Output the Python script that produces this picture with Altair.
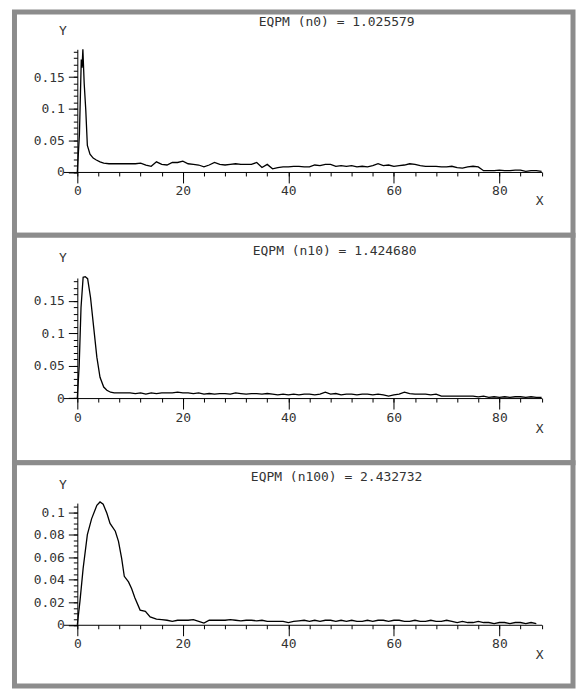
import altair as alt
import pandas as pd

# ---------------- data ----------------
titles = ["EQPM (n0) = 1.025579", "EQPM (n10) = 1.424680", "EQPM (n100) = 2.432732"]

x_n0 = [0, 0.4, 0.75, 0.9, 1.05, 1.3, 1.6, 1.9, 2.4, 3.0, 3.6, 4.3, 5.0, 6.0] + list(range(7, 89))
y_n0 = [0.0, 0.06, 0.178, 0.165, 0.194, 0.14, 0.098, 0.042, 0.028, 0.022, 0.019, 0.016, 0.014, 0.013,
        0.013, 0.013, 0.013, 0.013, 0.013, 0.014, 0.011, 0.009, 0.016, 0.012,
        0.011, 0.015, 0.015, 0.017, 0.013, 0.012, 0.011, 0.008, 0.011, 0.015,
        0.012, 0.011, 0.012, 0.013, 0.012, 0.012, 0.012, 0.015, 0.007, 0.012,
        0.005, 0.007, 0.008, 0.008, 0.009, 0.009, 0.008, 0.008, 0.011, 0.010,
        0.012, 0.012, 0.009, 0.010, 0.009, 0.010, 0.008, 0.009, 0.008, 0.010,
        0.013, 0.010, 0.011, 0.009, 0.010, 0.011, 0.013, 0.012, 0.010, 0.009,
        0.009, 0.009, 0.008, 0.008, 0.009, 0.007, 0.006, 0.008, 0.009, 0.008,
        0.002, 0.002, 0.002, 0.003, 0.002, 0.002, 0.003, 0.003, 0.001, 0.002,
        0.002, 0.001]

x_n10 = [0, 0.35, 0.7, 1.1, 1.5, 1.95, 2.5, 3.1, 3.7, 4.3, 5.0, 5.6, 6.3] + list(range(7, 89))
y_n10 = [0.0, 0.05, 0.14, 0.186, 0.187, 0.184, 0.155, 0.109, 0.063, 0.032, 0.017, 0.012, 0.009,
         0.008, 0.008, 0.008, 0.008, 0.007, 0.008, 0.006, 0.008, 0.007, 0.008,
         0.008, 0.008, 0.009, 0.008, 0.008, 0.007, 0.008, 0.006, 0.007, 0.006,
         0.007, 0.007, 0.006, 0.008, 0.007, 0.006, 0.007, 0.007, 0.006, 0.007,
         0.006, 0.005, 0.006, 0.005, 0.006, 0.005, 0.006, 0.006, 0.005, 0.006,
         0.009, 0.006, 0.007, 0.005, 0.006, 0.006, 0.005, 0.006, 0.006, 0.005,
         0.006, 0.005, 0.003, 0.005, 0.006, 0.009, 0.007, 0.006, 0.006, 0.006,
         0.005, 0.006, 0.003, 0.003, 0.003, 0.003, 0.003, 0.003, 0.003, 0.002,
         0.003, 0.001, 0.002, 0.001, 0.002, 0.001, 0.002, 0.002, 0.001, 0.002,
         0.001, 0.001]

x_n100 = [0, 0.5, 1.1, 1.9, 2.7, 3.7, 4.3, 4.9, 5.6, 6.2, 7.2, 7.8, 8.4, 8.9, 9.7, 10.3, 10.9,
          11.9, 12.9, 13.8, 15, 16, 17] + list(range(18, 88))
y_n100 = [0.0, 0.021, 0.05, 0.08, 0.094, 0.106, 0.109, 0.107, 0.099, 0.09, 0.083, 0.074, 0.059,
          0.043, 0.038, 0.032, 0.024, 0.013, 0.012, 0.007, 0.005, 0.0045, 0.004,
          0.003, 0.004, 0.004, 0.004, 0.0045, 0.003, 0.0015, 0.004, 0.004, 0.004,
          0.004, 0.0045, 0.004, 0.0035, 0.004, 0.004, 0.0035, 0.004, 0.003, 0.003,
          0.003, 0.003, 0.002, 0.003, 0.0035, 0.004, 0.003, 0.004, 0.003, 0.004,
          0.004, 0.003, 0.004, 0.003, 0.004, 0.003, 0.003, 0.004, 0.003, 0.004,
          0.004, 0.003, 0.004, 0.004, 0.003, 0.003, 0.004, 0.003, 0.003, 0.004,
          0.003, 0.003, 0.004, 0.003, 0.002, 0.003, 0.002, 0.002, 0.003, 0.002,
          0.002, 0.001, 0.002, 0.002, 0.001, 0.002, 0.002, 0.001, 0.002, 0.001]

x_major = [0, 20, 40, 60, 80]
x_minor = list(range(0, 89, 4))
y_major_a = [0, 0.05, 0.1, 0.15]
y_minor_a = [round(i * 0.01, 3) for i in range(0, 20)]
y_minor_b = [round(i * 0.01, 3) for i in range(0, 19)]
y_major_c = [0, 0.02, 0.04, 0.06, 0.08, 0.1]
y_minor_c = [round(i * 0.005, 4) for i in range(0, 22)]

# ---------------- layout ----------------
W = 560
X_DOMAIN = [-2.65, 88]
X_RANGE = [49, 528.5]
X0_PX = 63
FONT = "DejaVu Sans Mono"
TXT = "#333333"


def panel(xs, ys, title, ydom, yrange, h, ymaj, ymin, title_xy, ytitle_y, xtitle_y):
    df = pd.DataFrame({"x": xs, "y": ys})
    xsc = alt.Scale(domain=X_DOMAIN, range=X_RANGE, nice=False, zero=False)
    ysc = alt.Scale(domain=ydom, range=yrange, nice=False, zero=False)
    xoff = -(h - yrange[0])
    major = alt.Chart(df).mark_line(color="black", strokeWidth=1.3).encode(
        x=alt.X("x:Q", scale=xsc, axis=alt.Axis(
            values=x_major, orient="bottom", offset=xoff, tickSize=11, labelPadding=2,
            format="d", title="X", titleAngle=0, titleX=526, titleY=xtitle_y,
            titleAlign="center", titleBaseline="middle")),
        y=alt.Y("y:Q", scale=ysc, axis=alt.Axis(
            values=ymaj, orient="left", offset=-X0_PX, tickSize=9, labelPadding=4,
            format="~g", title="Y", titleAngle=0, titleX=-15, titleY=ytitle_y,
            titleAlign="center", titleBaseline="middle")),
    )
    minor = alt.Chart(df).mark_line(opacity=0).encode(
        x=alt.X("x:Q", scale=xsc, axis=alt.Axis(
            values=x_minor, orient="bottom", offset=xoff, tickSize=4, labels=False,
            domain=False, title=None)),
        y=alt.Y("y:Q", scale=ysc, axis=alt.Axis(
            values=ymin, orient="left", offset=-X0_PX, tickSize=4, labels=False,
            domain=False, title=None)),
    )
    ttl = alt.Chart(pd.DataFrame({"t": [title]})).mark_text(
        font=FONT, fontSize=13, color=TXT, align="center", baseline="middle"
    ).encode(text="t:N", x=alt.value(title_xy[0]), y=alt.value(title_xy[1]))
    return alt.layer(major, minor, ttl).resolve_axis(x="independent", y="independent").properties(
        width=W, height=h)


p1 = panel(x_n0, y_n0, titles[0], [0, 0.194], [160.5, 37.5], 224, y_major_a, y_minor_a,
           (323, 10.5), 18.5, 29)
p2 = panel(x_n10, y_n10, titles[1], [0, 0.185], [163.2, 42.8], 228, y_major_a, y_minor_b,
           (321, 15.5), 22.5, 31)
p3 = panel(x_n100, y_n100, titles[2], [0, 0.108], [162.5, 40.5], 224, y_major_c, y_minor_c,
           (323, 14.5), 21.5, 30)

chart = alt.vconcat(p1, p2, p3, spacing=0, bounds="flush").properties(
    padding={"left": 3.5, "top": 0, "right": 0, "bottom": 0},
    background="white",
).configure_view(
    stroke="#8c8c8c", strokeWidth=5, fill="white"
).configure_axis(
    grid=False, domainColor="black", domainWidth=1, tickColor="black", tickWidth=1,
    labelFont=FONT, labelFontSize=13, labelColor=TXT,
    titleFont=FONT, titleFontSize=13, titleColor=TXT, titleFontWeight="normal",
).configure_concat(spacing=0)

chart.save("out.html", embed_options={"renderer": "svg", "actions": False})
